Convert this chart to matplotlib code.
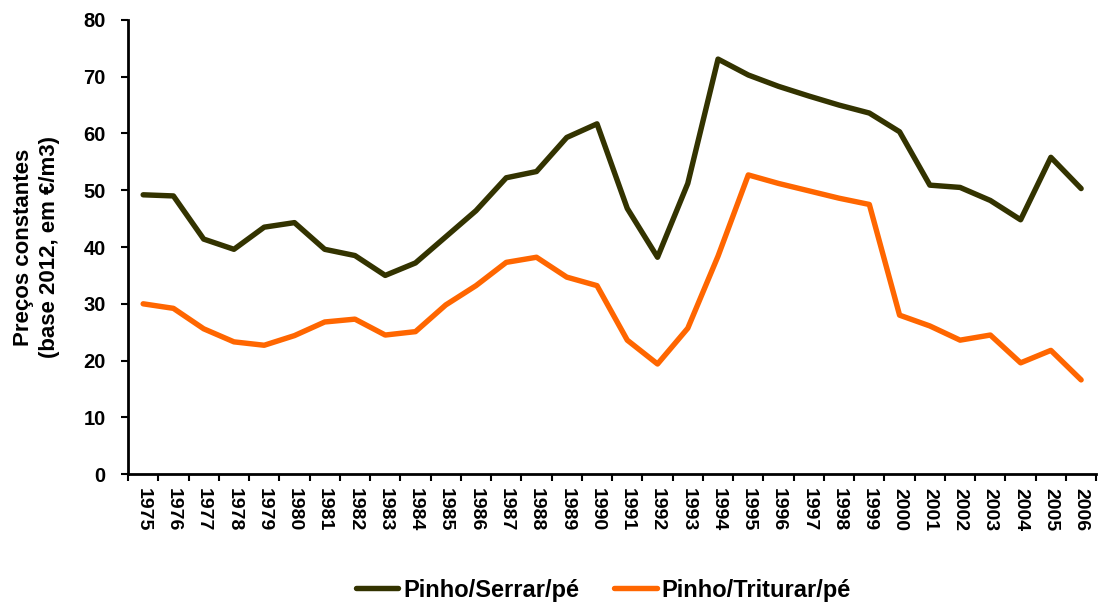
import matplotlib
matplotlib.use("Agg")
import matplotlib.pyplot as plt
from matplotlib.ticker import FixedLocator

years = [str(y) for y in range(1975, 2007)]
serrar = [49.2, 49.0, 41.4, 39.6, 43.5, 44.3, 39.6, 38.5, 35.0, 37.2, 41.8, 46.4,
          52.2, 53.3, 59.3, 61.7, 46.8, 38.2, 51.2, 73.1, 70.3, 68.3, 66.6, 65.0,
          63.6, 60.3, 50.9, 50.5, 48.2, 44.8, 55.8, 50.3]
triturar = [30.0, 29.2, 25.6, 23.3, 22.7, 24.4, 26.8, 27.3, 24.5, 25.1, 29.8, 33.2,
            37.3, 38.2, 34.7, 33.2, 23.6, 19.4, 25.7, 38.4, 52.7, 51.2, 49.9, 48.6,
            47.5, 28.0, 26.1, 23.6, 24.5, 19.6, 21.8, 16.6]
series_names = ["Pinho/Serrar/pé", "Pinho/Triturar/pé"]
y_ticks = [0, 10, 20, 30, 40, 50, 60, 70, 80]
y_label = "Preços constantes\n(base 2012, em €/m3)"

plt.rcParams['font.family'] = ['Liberation Sans', 'DejaVu Sans']

fig = plt.figure(figsize=(10.99, 6.04), dpi=100)
ax = fig.add_axes([0.1165, 0.215, 0.881, 0.752])

x = list(range(len(years)))
ax.plot(x, serrar, color="#333300", lw=3.9, solid_joinstyle="round", solid_capstyle="round", label=series_names[0])
ax.plot(x, triturar, color="#FF6600", lw=3.9, solid_joinstyle="round", solid_capstyle="round", label=series_names[1])

ax.set_xlim(-0.5, len(years) - 0.5)
ax.set_ylim(0, 80)
ax.set_yticks(y_ticks)
ax.set_yticklabels([str(v) for v in y_ticks], fontsize=14.5, fontweight="bold")
ax.set_xticks(x)
ax.set_xticklabels(years, rotation=270, fontsize=14, fontweight="bold")
ax.xaxis.set_minor_locator(FixedLocator([i - 0.5 for i in range(len(years) + 1)]))
ax.tick_params(axis="x", which="major", length=0, pad=10)
ax.tick_params(axis="x", which="minor", length=5, width=1.5, direction="out")
ax.tick_params(axis="y", which="major", length=5, width=1.5, direction="out", pad=11)

for s in ["top", "right"]:
    ax.spines[s].set_visible(False)
for s in ["left", "bottom"]:
    ax.spines[s].set_linewidth(2)

ax.set_ylabel(y_label, fontsize=16, fontweight="bold", labelpad=17, linespacing=1.3)

leg = fig.legend(loc="center", bbox_to_anchor=(0.549, 0.023), ncol=2, frameon=False,
                 prop={"weight": "bold", "size": 17}, handlelength=1.8, handletextpad=0.2,
                 columnspacing=1.5)

fig.savefig("out.png", dpi=100)
